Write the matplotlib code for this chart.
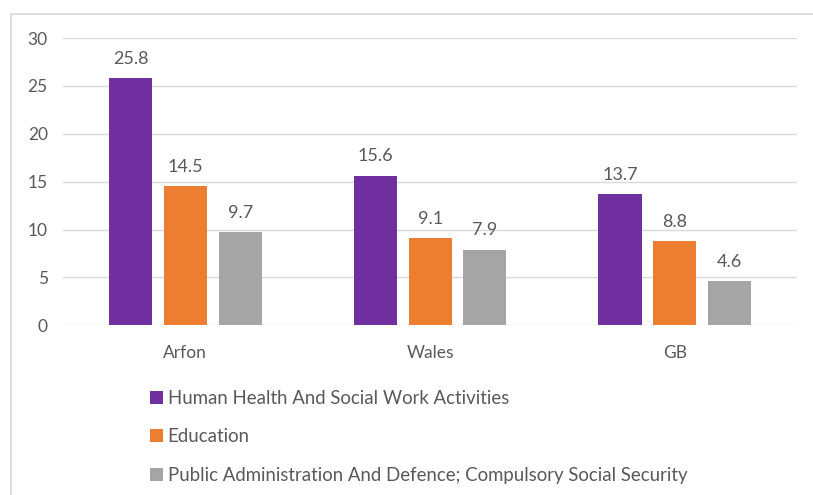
import matplotlib.pyplot as plt
import numpy as np
from matplotlib.lines import Line2D

plt.rcParams['font.family'] = ['Lato', 'DejaVu Sans']

areas = ["Arfon", "Wales", "GB"]
series = [
    "Human Health And Social Work Activities",
    "Education",
    "Public Administration And Defence; Compulsory Social Security",
]
health = [25.8, 15.6, 13.7]
education = [14.5, 9.1, 8.8]
public_admin = [9.7, 7.9, 4.6]
colors = ["#7030A0", "#ED7D31", "#A5A5A5"]

fig = plt.figure(figsize=(8.13, 4.95), dpi=100)
ax = fig.add_axes([0.0775, 0.343, 0.903, 0.58])

x = np.arange(len(areas))
width = 0.176
step = 0.224
text_col = "#595959"
for i, (vals, lab) in enumerate(zip([health, education, public_admin], series)):
    pos = x + (i - 1) * step
    bars = ax.bar(pos, vals, width, color=colors[i], label=lab, zorder=3)
    for b, v in zip(bars, vals):
        ax.text(b.get_x() + b.get_width() / 2, v + 1.2, f"{v:.1f}",
                ha="center", va="bottom", fontsize=13, color=text_col)

ax.set_xlim(-0.5, 2.5)
ax.set_ylim(0, 30)
ax.set_yticks(range(0, 31, 5))
ax.set_xticks(x)
ax.set_xticklabels(areas)
ax.grid(axis="y", color="#D9D9D9", linewidth=1, zorder=0)
for s in ax.spines.values():
    s.set_visible(False)
ax.tick_params(length=0, labelsize=12.5, colors=text_col)
ax.tick_params(axis="y", pad=11)
ax.tick_params(axis="x", pad=14)

leg = fig.legend(loc="upper left", bbox_to_anchor=(150 / 813, 1 - 390 / 495), frameon=False,
                 fontsize=13.4, labelspacing=1.15, handlelength=0.7, handleheight=0.7,
                 handletextpad=0.25, borderaxespad=0, borderpad=0)
for t in leg.get_texts():
    t.set_color(text_col)

# chart frame (left and top edges)
fig.add_artist(Line2D([11 / 813, 11 / 813], [0, 1 - 14 / 495], color="#D9D9D9", lw=1.2,
                      transform=fig.transFigure))
fig.add_artist(Line2D([11 / 813, 1], [1 - 14 / 495, 1 - 14 / 495], color="#D9D9D9", lw=1.2,
                      transform=fig.transFigure))

fig.savefig("out.png", dpi=100)
